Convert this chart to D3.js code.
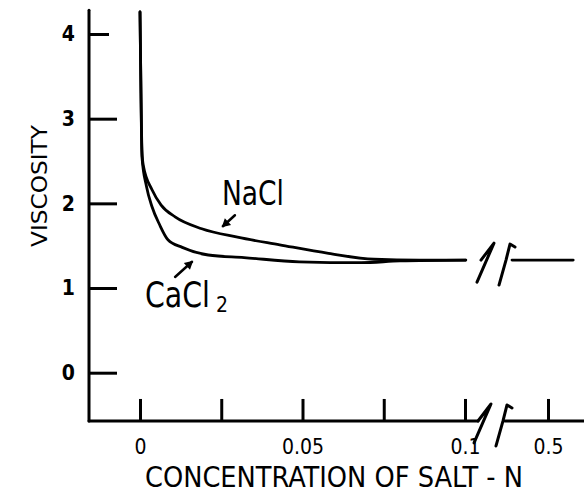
<!DOCTYPE html>
<html>
<head>
<meta charset="utf-8">
<script src="https://cdn.jsdelivr.net/npm/d3@7"></script>
<style>
  body { margin: 0; background: #fff; }
  svg text { font-family: 'DejaVu Sans Condensed', 'Liberation Sans Narrow', sans-serif; font-stretch: condensed; fill: #000; }
</style>
</head>
<body>
<div id="graph"></div>
<script>
// concentration (N), viscosity
var nacl = [[0, 4.26], [0.0003, 3.3], [0.0006, 2.63], [0.001, 2.45], [0.0037, 2.16], [0.0065, 1.98],
  [0.0108, 1.84], [0.019, 1.70], [0.030, 1.60], [0.043, 1.51], [0.058, 1.41], [0.072, 1.34],
  [0.086, 1.33], [0.105, 1.33]]
var cacl2 = [[0, 4.26], [0.0003, 3.3], [0.0006, 2.55], [0.002, 2.2], [0.0037, 1.96], [0.006, 1.75],
  [0.0086, 1.57], [0.013, 1.48], [0.021, 1.39], [0.032, 1.36], [0.049, 1.31], [0.068, 1.30],
  [0.08, 1.32], [0.105, 1.33]]
var afterBreak = [[0.4, 1.33], [0.57, 1.33]]

var yTicks = [0, 1, 2, 3, 4]
var xTicks = [0, 0.025, 0.05, 0.075, 0.1, 0.5]
var xLabels = {0: '0', 0.05: '0.05', 0.1: '0.1', 0.5: '0.5'}

// [text, x, y] in data units
var labels = [['NaCl', 0.0252, 1.98], ['CaCl', 0.0015, 0.776]]
var arrows = [[[0.0292, 1.86], [0.0255, 1.73]], [[0.0108, 1.13], [0.016, 1.31]]]

var width = 584, height = 494

var svg = d3.select('#graph').append('svg')
  .attr('width', width).attr('height', height)

// broken x scale: 0..0.1 linear, then jump to 0.4..0.6
var x = d3.scaleLinear().domain([0, 0.1, 0.4, 0.6]).range([140, 465, 512, 584])
var y = d3.scaleLinear().domain([0, 4]).range([372.7, 34])

var axisY = y(-0.57)
var axisX = 89

var stroke = {stroke: '#000', fill: 'none', 'stroke-linecap': 'round', 'stroke-linejoin': 'round'}
function at(sel, o){ for (var k in o) sel.attr(k, o[k]); return sel }

// axes lines
at(svg.append('line'), stroke).attr('x1', axisX).attr('x2', axisX)
  .attr('y1', y(4.28)).attr('y2', axisY).attr('stroke-width', 3)
at(svg.append('line'), stroke).attr('x1', axisX).attr('x2', x(0.1) + 13)
  .attr('y1', axisY).attr('y2', axisY).attr('stroke-width', 3)
at(svg.append('line'), stroke).attr('x1', x(0.1) + 40).attr('x2', width)
  .attr('y1', axisY).attr('y2', axisY).attr('stroke-width', 3)

// break marks
function breakMark(bx, by){
  at(svg.append('path'), stroke).attr('stroke-width', 3)
    .attr('d', `M${bx},${by} L${bx + 13},${by - 17} L${bx - 4},${by + 22}`)
  at(svg.append('path'), stroke).attr('stroke-width', 3)
    .attr('d', `M${bx + 18},${by + 25} L${bx + 25},${by} L${bx + 29},${by - 16} L${bx + 34},${by - 13}`)
}
breakMark(x(0.1) + 16, y(1.33))
breakMark(x(0.1) + 13, axisY)

// y ticks
var yAxis = d3.axisLeft(y).tickValues(yTicks).tickSizeInner(-28).tickSizeOuter(0).tickPadding(14)
  .tickFormat(d3.format('d'))
var yg = svg.append('g').attr('transform', `translate(${axisX},0)`).call(yAxis)
yg.select('.domain').remove()
yg.selectAll('line').attr('stroke', '#000').attr('stroke-width', 3)
  .attr('x2', d => d == 4 ? 20 : 28)
yg.selectAll('text').attr('font-size', 21).attr('font-weight', 'bold')

// x ticks
var xAxis = d3.axisBottom(x).tickValues(xTicks).tickSizeInner(-22).tickSizeOuter(0).tickPadding(18)
  .tickFormat(d => xLabels[d] || '')
var xg = svg.append('g').attr('transform', `translate(0,${axisY})`).call(xAxis)
xg.select('.domain').remove()
xg.selectAll('line').attr('stroke', '#000').attr('stroke-width', 3)
xg.selectAll('text').attr('font-size', 21)

// curves
var line = d3.line().x(d => x(d[0])).y(d => y(d[1])).curve(d3.curveMonotoneX)
;[nacl, cacl2, afterBreak].forEach(s => {
  at(svg.append('path'), stroke).attr('stroke-width', 2.8).attr('d', line(s))
})

// labels
svg.append('text').attr('x', x(labels[0][1])).attr('y', y(labels[0][2]))
  .attr('font-size', 34).attr('textLength', 62).attr('lengthAdjust', 'spacingAndGlyphs')
  .text(labels[0][0])
svg.append('text').attr('x', x(labels[1][1])).attr('y', y(labels[1][2]))
  .attr('font-size', 35).attr('textLength', 65).attr('lengthAdjust', 'spacingAndGlyphs')
  .text(labels[1][0])
svg.append('text').attr('x', x(labels[1][1]) + 71).attr('y', y(labels[1][2]) + 5)
  .attr('font-size', 21).text('2')

// arrows
arrows.forEach(([a, b]) => {
  var x1 = x(a[0]), y1 = y(a[1]), x2 = x(b[0]), y2 = y(b[1])
  var ang = Math.atan2(y2 - y1, x2 - x1)
  at(svg.append('line'), stroke).attr('stroke-width', 2.5)
    .attr('x1', x1).attr('y1', y1).attr('x2', x2).attr('y2', y2)
  var h = 7, w = 0.5
  svg.append('path').attr('fill', '#000').attr('stroke', '#000').attr('stroke-width', 1.5)
    .attr('d', `M${x2},${y2} L${x2 - h * Math.cos(ang - w)},${y2 - h * Math.sin(ang - w)} L${x2 - h * Math.cos(ang + w)},${y2 - h * Math.sin(ang + w)}Z`)
})

// axis titles
svg.append('text').attr('transform', 'translate(47,186) rotate(-90)')
  .attr('text-anchor', 'middle').attr('font-size', 21)
  .attr('textLength', 122).attr('lengthAdjust', 'spacingAndGlyphs')
  .text('VISCOSITY')
svg.append('text').attr('x', 145).attr('y', 487)
  .attr('font-size', 29).attr('textLength', 378).attr('lengthAdjust', 'spacingAndGlyphs')
  .text('CONCENTRATION OF SALT - N')
</script>
</body>
</html>
